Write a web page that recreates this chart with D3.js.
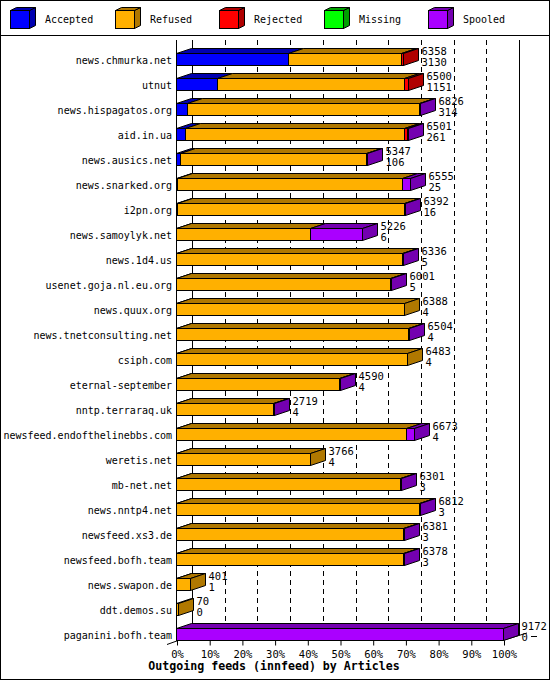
<!DOCTYPE html>
<html>
<head>
<meta charset="utf-8">
<script src="https://cdn.jsdelivr.net/npm/d3@7"></script>
<style>
  body { margin: 0; background: #fff; }
  svg text { font-family: "DejaVu Sans Mono", monospace; }
</style>
</head>
<body>
<svg id="chart" width="550" height="680"></svg>
<script>
// hosts, top to bottom
const hosts = [
  "news.chmurka.net", "utnut", "news.hispagatos.org", "aid.in.ua", "news.ausics.net",
  "news.snarked.org", "i2pn.org", "news.samoylyk.net", "news.1d4.us", "usenet.goja.nl.eu.org",
  "news.quux.org", "news.tnetconsulting.net", "csiph.com", "eternal-september", "nntp.terraraq.uk",
  "newsfeed.endofthelinebbs.com", "weretis.net", "mb-net.net", "news.nntp4.net", "newsfeed.xs3.de",
  "newsfeed.bofh.team", "news.swapon.de", "ddt.demos.su", "paganini.bofh.team"
];
const offered  = [6358, 6500, 6826, 6501, 5347, 6555, 6392, 5226, 6336, 6001, 6388, 6504, 6483, 4590, 2719, 6673, 3766, 6301, 6812, 6381, 6378, 401, 70, 9172];
const accepted = [3130, 1151, 314, 261, 106, 25, 16, 6, 5, 5, 4, 4, 4, 4, 4, 4, 4, 3, 3, 3, 3, 1, 0, 0];
const refused  = [3183, 5237, 6497, 6140, 5221, 6305, 6366, 3740, 6326, 5991, 6384, 6495, 6479, 4581, 2710, 6454, 3762, 6293, 6804, 6373, 6370, 400, 70, 0];
const rejected = [45, 112, 0, 70, 0, 0, 0, 0, 0, 0, 0, 0, 0, 0, 0, 0, 0, 0, 0, 0, 0, 0, 0, 0];
const missing  = [0, 0, 0, 0, 0, 0, 0, 0, 0, 0, 0, 0, 0, 0, 0, 0, 0, 0, 0, 0, 0, 0, 0, 0];
const spooled  = [0, 0, 15, 30, 20, 225, 10, 1480, 5, 5, 0, 5, 0, 5, 5, 215, 0, 5, 5, 5, 5, 0, 0, 9172];

const seriesNames = ["Accepted", "Refused", "Rejected", "Missing", "Spooled"];
const pctTicks = [0, 10, 20, 30, 40, 50, 60, 70, 80, 90, 100];
const title = "Outgoing feeds (innfeed) by Articles";

const front = {Accepted: "#0000ff", Refused: "#ffb000", Rejected: "#ff0000", Missing: "#00ff00", Spooled: "#aa00ff"};
const dark  = {Accepted: "#0000b0", Refused: "#b07800", Rejected: "#b00000", Missing: "#00a000", Spooled: "#7400b0"};

const W = 550, H = 680;
const DX = 15, DY = -5;   // 3d depth

const svg = d3.select("#chart");

// rows as objects for d3.stack
const rows = hosts.map((h, i) => ({
  host: h, offered: offered[i],
  Accepted: accepted[i], Refused: refused[i], Rejected: rejected[i], Missing: missing[i], Spooled: spooled[i]
}));

const maxTotal = d3.max(rows, d => d3.sum(seriesNames, k => d[k]));
const x = d3.scaleLinear().domain([0, maxTotal]).range([177, 504]);
const xp = d3.scaleLinear().domain([0, 100]).range([177, 504]);
const y = d3.scaleBand().domain(hosts).range([53, 53 + 25 * hosts.length - 13]).paddingInner(13 / 25);
const bh = y.bandwidth();

const px = v => Math.round(v) + 0.5;

// outer frame + legend separator
svg.append("rect").attr("x", 0.5).attr("y", 0.5).attr("width", W - 1).attr("height", H - 1)
  .attr("fill", "#fff").attr("stroke", "#000");
svg.append("line").attr("x1", 0).attr("x2", W).attr("y1", 35.5).attr("y2", 35.5).attr("stroke", "#000");

// legend
seriesNames.forEach((k, i) => {
  let lx = 10 + Math.round(i * 104.5), ly = 10;
  let g = svg.append("g").attr("transform", `translate(${lx + 0.5},${ly + 0.5})`);
  g.append("path").attr("d", `M19,0 L25,-3 L25,15 L19,18 Z`).attr("fill", dark[k]).attr("stroke", "#000");
  g.append("path").attr("d", `M0,0 L6,-3 L25,-3 L19,0 Z`).attr("fill", dark[k]).attr("stroke", "#000");
  g.append("rect").attr("width", 19).attr("height", 18).attr("fill", front[k]).attr("stroke", "#000");
  svg.append("text").attr("x", lx + 35).attr("y", 23).text(k).style("font-size", "10px").attr("fill", "#000");
});

// back plane grid
const backTop = 40, backBottom = 640 + DY;
pctTicks.forEach(p => {
  svg.append("line")
    .attr("x1", px(xp(p) + DX)).attr("x2", px(xp(p) + DX))
    .attr("y1", backTop).attr("y2", backBottom)
    .attr("stroke", "#000")
    .attr("stroke-dasharray", (p === 0 || p === 100) ? null : "5,4");
});
svg.append("line").attr("x1", px(xp(0) + DX)).attr("x2", px(xp(100) + DX))
  .attr("y1", backBottom + 0.5).attr("y2", backBottom + 0.5).attr("stroke", "#000");
// front left axis + depth diagonal
svg.append("line").attr("x1", px(xp(0)) - 1).attr("x2", px(xp(0)) - 1).attr("y1", backTop).attr("y2", 640)
  .attr("stroke", "#000");
svg.append("line").attr("x1", xp(0) - 10).attr("y1", 644.5).attr("x2", xp(0) + DX).attr("y2", backBottom + 0.5)
  .attr("stroke", "#000");
svg.append("line").attr("x1", xp(100)).attr("y1", 640).attr("x2", xp(100) + DX + 8).attr("y2", backBottom - 2)
  .attr("stroke", "#000");

// stacked 3d bars
const stack = d3.stack().keys(seriesNames)(rows);

rows.forEach((r, i) => {
  const top = Math.round(y(r.host)) + 0.5;
  const segs = stack.map(s => ({key: s.key, a: s[i][0], b: s[i][1]})).filter(s => s.b > s.a);
  const g = svg.append("g");
  segs.forEach(s => {
    const x0 = px(x(s.a)) - 1, x1 = Math.max(px(x(s.b)) - 1, x0 + 1);
    g.append("path")
      .attr("d", `M${x0},${top} L${x0 + DX},${top + DY} L${x1 + DX},${top + DY} L${x1},${top} Z`)
      .attr("fill", dark[s.key]).attr("stroke", "#000");
    g.append("rect").attr("x", x0).attr("y", top).attr("width", x1 - x0).attr("height", bh)
      .attr("fill", front[s.key]).attr("stroke", "#000");
  });
  const last = segs[segs.length - 1];
  const xe = Math.max(px(x(last.b)) - 1, px(x(last.a)));
  g.append("path")
    .attr("d", `M${xe},${top} L${xe + DX},${top + DY} L${xe + DX},${top + DY + bh} L${xe},${top + bh} Z`)
    .attr("fill", dark[last.key]).attr("stroke", "#000");

  // value labels
  svg.append("text").attr("x", xe + DX + 3).attr("y", top + 1).text(r.offered)
    .style("font-size", "10.5px").attr("fill", "#000");
  svg.append("text").attr("x", xe + DX + 3).attr("y", top + 12).text(r.Accepted)
    .style("font-size", "10.5px").attr("fill", "#000");
  // host label
  svg.append("text").attr("x", 172).attr("y", top + 10).attr("text-anchor", "end").text(r.host)
    .style("font-size", "10px").attr("fill", "#000");
});

// small mark after last accepted label
const lastRow = rows[rows.length - 1];
svg.append("line").attr("x1", xp(100) + DX + 12).attr("x2", xp(100) + DX + 12 + 6)
  .attr("y1", Math.round(y(lastRow.host)) + 8.5).attr("y2", Math.round(y(lastRow.host)) + 8.5).attr("stroke", "#000");

// bottom axis
const axis = d3.axisBottom(xp).tickValues(pctTicks).tickSize(5).tickFormat(d => d + "%");
const ag = svg.append("g").attr("transform", "translate(0,640.5)").call(axis);
ag.select(".domain").attr("d", `M${xp(0)},0H${xp(100)}`);
ag.selectAll("text").style("font-family", "DejaVu Sans Mono").style("font-size", "10.5px").attr("fill", "#000").attr("dy", "0.9em");

// title
svg.append("text").attr("x", 274).attr("y", 670).attr("text-anchor", "middle").text(title)
  .style("font-size", "11.6px").style("font-weight", "bold").attr("fill", "#000");
</script>
</body>
</html>
